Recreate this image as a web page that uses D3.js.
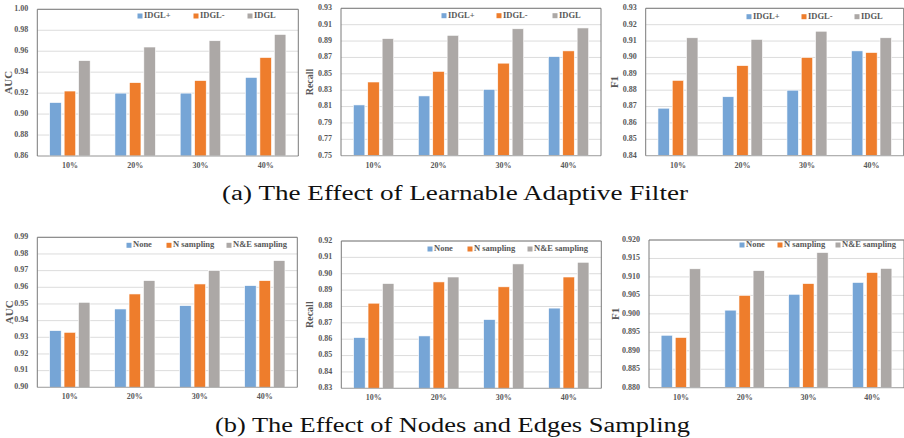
<!DOCTYPE html>
<html>
<head>
<meta charset="utf-8">
<script src="https://cdn.jsdelivr.net/npm/d3@7"></script>
<style>
  body { margin: 0; background: #fff; }
  svg { display: block; }
  .tick-label, .cat-label, .legend-label { font-family: "Liberation Serif", "Times New Roman", serif; font-weight: bold; fill: #595959; }
  .axis-title { font-family: "Liberation Serif", "Times New Roman", serif; font-weight: bold; fill: #595959; }
  .caption { font-family: "Liberation Serif", "Times New Roman", serif; fill: #111; }
</style>
</head>
<body>
<svg id="chart" width="904" height="438"></svg>
<script>
// Categories and series names
const categories = ["10%", "20%", "30%", "40%"];
const seriesFilter = ["IDGL+", "IDGL-", "IDGL"];
const seriesSampling = ["None", "N sampling", "N&E sampling"];

// (a) values, one row per series
const aucFilter = [
    [0.911, 0.920, 0.920, 0.935],
    [0.922, 0.930, 0.932, 0.954],
    [0.951, 0.964, 0.970, 0.976]
];
const recallFilter = [
    [0.812, 0.823, 0.831, 0.871],
    [0.840, 0.853, 0.863, 0.878],
    [0.893, 0.897, 0.905, 0.906]
];
const f1Filter = [
    [0.869, 0.876, 0.880, 0.904],
    [0.886, 0.895, 0.900, 0.903],
    [0.912, 0.911, 0.916, 0.912]
];

// (b) values
const aucSampling = [
    [0.934, 0.947, 0.949, 0.961],
    [0.933, 0.956, 0.962, 0.964],
    [0.951, 0.964, 0.970, 0.976]
];
const recallSampling = [
    [0.861, 0.862, 0.872, 0.879],
    [0.882, 0.895, 0.892, 0.898],
    [0.894, 0.898, 0.906, 0.907]
];
const f1Sampling = [
    [0.8942, 0.9010, 0.9053, 0.9085],
    [0.8936, 0.9050, 0.9082, 0.9112],
    [0.9122, 0.9117, 0.9166, 0.9123]
];

// Y axis tick values
const ticksAucFilter = [0.86, 0.88, 0.90, 0.92, 0.94, 0.96, 0.98, 1.00];
const ticksRecallFilter = [0.75, 0.77, 0.79, 0.81, 0.83, 0.85, 0.87, 0.89, 0.91, 0.93];
const ticksF1Filter = [0.84, 0.85, 0.86, 0.87, 0.88, 0.89, 0.90, 0.91, 0.92, 0.93];
const ticksAucSampling = [0.90, 0.91, 0.92, 0.93, 0.94, 0.95, 0.96, 0.97, 0.98, 0.99];
const ticksRecallSampling = [0.83, 0.84, 0.85, 0.86, 0.87, 0.88, 0.89, 0.90, 0.91, 0.92];
const ticksF1Sampling = [0.880, 0.885, 0.890, 0.895, 0.900, 0.905, 0.910, 0.915, 0.920];

const captions = ["(a) The Effect of Learnable Adaptive Filter", "(b) The Effect of Nodes and Edges Sampling"];

const colors = ["#76a5d6", "#ee7d2c", "#aca8a6"];

// Panel placement (plot area in page pixels) and legend positions
const panels = [
    {title: "AUC", values: aucFilter, ticks: ticksAucFilter, digits: 2, series: seriesFilter,
     x: 37.3, y: 9.3, w: 261, h: 146.7, titleX: 9, legendY: 16, legendX: [140, 196, 250]},
    {title: "Recall", values: recallFilter, ticks: ticksRecallFilter, digits: 2, series: seriesFilter,
     x: 341, y: 8.3, w: 260, h: 147.4, titleX: 311, legendY: 15.7, legendX: [444, 499, 555]},
    {title: "F1", values: f1Filter, ticks: ticksF1Filter, digits: 2, series: seriesFilter,
     x: 645.7, y: 8.3, w: 258, h: 147.4, titleX: 615, legendY: 16.7, legendX: [749, 804, 857]},
    {title: "AUC", values: aucSampling, ticks: ticksAucSampling, digits: 2, series: seriesSampling,
     x: 37.3, y: 237.3, w: 260, h: 150, titleX: 10, legendY: 245.3, legendX: [129, 169, 229]},
    {title: "Recall", values: recallSampling, ticks: ticksRecallSampling, digits: 2, series: seriesSampling,
     x: 341.3, y: 241, w: 260, h: 147.3, titleX: 311, legendY: 249, legendX: [430, 470, 530]},
    {title: "F1", values: f1Sampling, ticks: ticksF1Sampling, digits: 3, series: seriesSampling,
     x: 649, y: 240, w: 255, h: 147.7, titleX: 616, legendY: 245, legendX: [742, 780, 838]}
];

// Caption placement: centre x, baseline y, stretched width
const captionPos = [
    {x: 455, y: 199.5, len: 466},
    {x: 452.5, y: 431.5, len: 475}
];

let svg = d3.select("#chart");
svg.append("rect").attr("width", 904).attr("height", 438).style("fill", "#fff");

panels.forEach(function(p) {
    let g = svg.append("g").attr("transform", "translate(" + p.x + "," + p.y + ")");

    let y = d3.scaleLinear()
        .domain([p.ticks[0], p.ticks[p.ticks.length - 1]])
        .range([p.h, 0]);

    let x0 = d3.scaleBand().domain(categories).range([0, p.w]);
    let bw = x0.bandwidth();
    let x1 = d3.scaleBand()
        .domain(d3.range(p.series.length))
        .range([bw * 0.19, bw * 0.81])
        .paddingInner(0.2);

    // gridlines
    g.selectAll(".grid").data(p.ticks)
        .enter().append("line")
        .attr("x1", 0).attr("x2", p.w)
        .attr("y1", d => y(d)).attr("y2", d => y(d))
        .style("stroke", "#dcdcdc").style("stroke-width", 1);

    // y tick labels
    g.selectAll(".tick-label").data(p.ticks)
        .enter().append("text")
        .attr("class", "tick-label")
        .attr("x", -9)
        .attr("y", d => y(d))
        .attr("text-anchor", "end")
        .attr("dominant-baseline", "middle")
        .style("font-size", "8px")
        .text(d => d.toFixed(p.digits));

    // bars
    let groups = g.selectAll(".cat").data(categories)
        .enter().append("g")
        .attr("transform", d => "translate(" + x0(d) + ",0)");

    groups.selectAll("rect")
        .data(function(c, ci) { return p.values.map((row, si) => ({s: si, v: row[ci]})); })
        .enter().append("rect")
        .attr("x", d => x1(d.s))
        .attr("width", x1.bandwidth())
        .attr("y", d => y(d.v))
        .attr("height", d => p.h - y(d.v))
        .style("fill", d => colors[d.s])
        .style("stroke", "#fff")
        .style("stroke-width", 0.6);

    // category labels
    g.selectAll(".cat-label").data(categories)
        .enter().append("text")
        .attr("class", "cat-label")
        .attr("x", d => x0(d) + bw / 2)
        .attr("y", p.h + 12)
        .attr("text-anchor", "middle")
        .style("font-size", "8px")
        .text(d => d);

    // plot frame
    g.append("line").attr("x1", 0).attr("x2", p.w).attr("y1", p.h).attr("y2", p.h)
        .style("stroke", "#a6a6a6");
    g.append("path")
        .attr("d", "M0," + p.h + "V0H" + p.w + "V" + p.h)
        .style("fill", "none").style("stroke", "#7a7a7a").style("stroke-width", 1);

    // axis title
    svg.append("text")
        .attr("class", "axis-title")
        .attr("transform", "translate(" + p.titleX + "," + (p.y + p.h / 2) + ") rotate(-90)")
        .attr("text-anchor", "middle")
        .attr("dominant-baseline", "middle")
        .style("font-size", p.title === "Recall" ? "10px" : "11px")
        .text(p.title);

    // legend
    p.series.forEach(function(name, i) {
        svg.append("rect")
            .attr("x", p.legendX[i] - 2.5).attr("y", p.legendY - 2.5)
            .attr("width", 5).attr("height", 5)
            .style("fill", colors[i]);
        svg.append("text")
            .attr("class", "legend-label")
            .attr("x", p.legendX[i] + 4)
            .attr("y", p.legendY)
            .attr("dominant-baseline", "middle")
            .style("font-size", "8.5px")
            .text(name);
    });
});

// captions
svg.selectAll(".caption").data(captions)
    .enter().append("text")
    .attr("class", "caption")
    .attr("x", (d, i) => captionPos[i].x)
    .attr("y", (d, i) => captionPos[i].y)
    .attr("text-anchor", "middle")
    .attr("textLength", (d, i) => captionPos[i].len)
    .attr("lengthAdjust", "spacingAndGlyphs")
    .style("font-size", "20px")
    .text(d => d);
</script>
</body>
</html>
